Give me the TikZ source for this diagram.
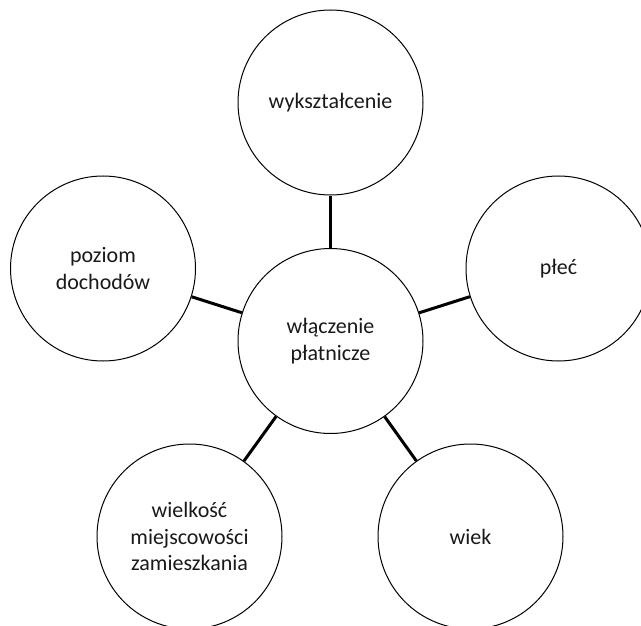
\documentclass[tikz,border=0pt]{standalone}
\usepackage{fontspec}
\setmainfont{Carlito}
\begin{document}
\begin{tikzpicture}[x=1pt,y=-1pt,
  bub/.style={circle,draw=black,line width=1pt,minimum size=185pt,inner sep=0pt,align=center,
    font=\fontsize{22}{26.8}\selectfont,text=black!90},
  link/.style={line width=3pt,black}]
\useasboundingbox (0,0) rectangle (641,626);
\clip (0,0) rectangle (641,626);
\node[bub] (c) at (330.5,341) {włączenie\\płatnicze};
\node[bub] (t) at (330.5,102.5) {wykształcenie};
\node[bub] (l) at (103,268.5) {poziom\\dochodów};
\node[bub] (r) at (558.5,268.5) {płeć};
\node[bub] (bl) at (189.5,536.5) {wielkość\\miejscowości\\zamieszkania};
\node[bub] (br) at (470.5,536.5) {wiek};
\draw[link] (c) -- (t);
\draw[link] (c) -- (l);
\draw[link] (c) -- (r);
\draw[link] (c) -- (bl);
\draw[link] (c) -- (br);
\end{tikzpicture}
\end{document}
